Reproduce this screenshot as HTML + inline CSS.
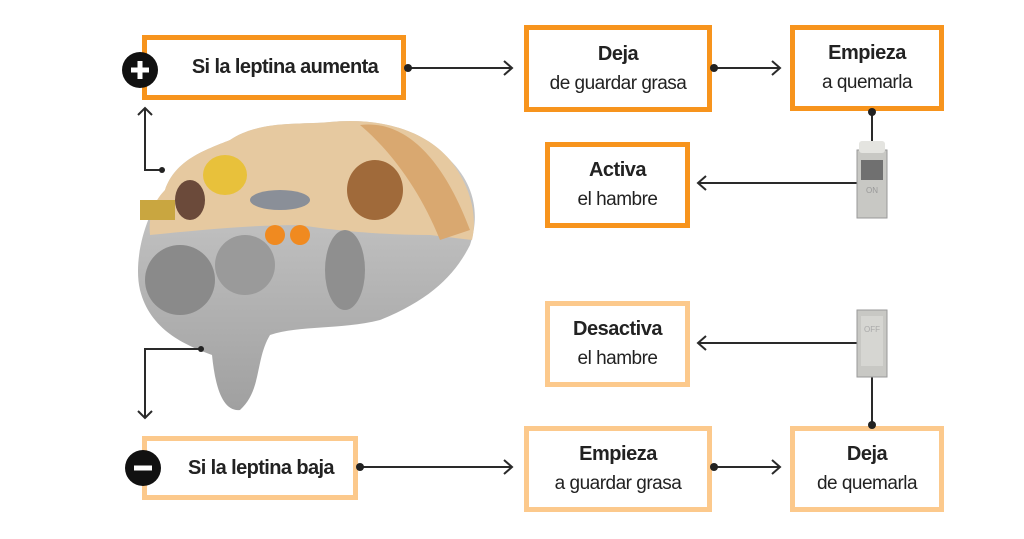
<!DOCTYPE html>
<html><head><meta charset="utf-8"><style>
body{margin:0;width:1024px;height:539px;background:#fff;overflow:hidden;position:relative;font-family:"Liberation Sans",sans-serif;color:#222}
.b{position:absolute;box-sizing:border-box;border:5px solid #f7941d;background:#fff;text-align:center;display:flex;flex-direction:column;justify-content:center;font-size:19px;line-height:29px;letter-spacing:-0.5px}
.l{border-color:#fcc98c}
.b b{font-size:20px}
.t{font-weight:bold;font-size:20px;justify-content:center;letter-spacing:-0.6px}
</style></head><body>
<svg width="1024" height="539" style="position:absolute;left:0;top:0">
<defs><linearGradient id="g" x1="0" y1="0" x2="0" y2="1"><stop offset="0" stop-color="#d0d0d0"/><stop offset="1" stop-color="#a0a0a0"/></linearGradient></defs>
<path d="M165,190 C175,160 205,150 230,140 C260,120 300,125 330,122 C370,118 420,125 450,160 C475,185 480,215 470,245 C455,275 430,300 380,320 C340,330 300,325 270,335 C255,360 262,390 240,410 C222,412 215,385 212,355 C185,345 150,330 140,290 C133,260 145,215 165,190Z" fill="url(#g)"/>
<path d="M165,190 C175,160 205,150 230,140 C260,120 300,125 330,122 C370,118 420,125 450,160 C470,185 478,215 472,240 L430,235 C380,235 330,230 300,225 C250,225 200,230 150,235 C148,215 155,200 165,190Z" fill="#e6c9a0"/>
<path d="M360,125 C400,120 440,150 470,230 L440,240 C420,190 390,150 360,125Z" fill="#d9a870"/>
<ellipse cx="375" cy="190" rx="28" ry="30" fill="#a06a3a"/>
<ellipse cx="225" cy="175" rx="22" ry="20" fill="#e8c13b"/>
<ellipse cx="280" cy="200" rx="30" ry="10" fill="#8a8f98"/>
<circle cx="275" cy="235" r="10" fill="#f08a20"/><circle cx="300" cy="235" r="10" fill="#f08a20"/>
<ellipse cx="190" cy="200" rx="15" ry="20" fill="#6b4a3a"/>
<rect x="140" y="200" width="35" height="20" fill="#c9a640"/>
<ellipse cx="345" cy="270" rx="20" ry="40" fill="#8f8f8f"/>
<ellipse cx="245" cy="265" rx="30" ry="30" fill="#9a9a9a"/>
<ellipse cx="180" cy="280" rx="35" ry="35" fill="#8a8a8a"/>
<g stroke="#2a2a2a" stroke-width="2" fill="none">
<path d="M406,68H512M504,61l8,7-8,7"/>
<path d="M712,68H780M772,61l8,7-8,7"/>
<path d="M872,112V142"/>
<path d="M857,183H698M706,176l-8,7 8,7"/>
<path d="M857,343H698M706,336l-8,7 8,7"/>
<path d="M872,377V426"/>
<path d="M358,467H512M504,460l8,7-8,7"/>
<path d="M712,467H780M772,460l8,7-8,7"/>
<path d="M162,170H145V108M138,115l7,-7 7,7"/>
<path d="M201,349H145V418M138,411l7,7 7,-7"/>
</g>
<g fill="#222"><circle cx="162" cy="170" r="3"/><circle cx="201" cy="349" r="3"/></g>
<rect x="857" y="150" width="30" height="68" fill="#c8c8c4" stroke="#999"/>
<rect x="859" y="141" width="26" height="12" rx="3" fill="#e4e4e0"/>
<rect x="861" y="160" width="22" height="20" fill="#707070"/>
<text x="872" y="193" font-size="8" text-anchor="middle" fill="#999" font-family="Liberation Sans">ON</text>
<rect x="857" y="310" width="30" height="67" fill="#c8c8c4" stroke="#999"/>
<rect x="861" y="316" width="22" height="50" fill="#d6d6d2"/>
<text x="872" y="332" font-size="8" text-anchor="middle" fill="#aaa" font-family="Liberation Sans">OFF</text>
</svg>
<div class="b t" style="left:142px;top:35px;width:264px;height:65px;padding-left:22px">Si la leptina aumenta</div>
<div class="b" style="left:524px;top:25px;width:188px;height:87px"><b>Deja</b>de guardar grasa</div>
<div class="b" style="left:790px;top:25px;width:154px;height:86px"><b>Empieza</b>a quemarla</div>
<div class="b" style="left:545px;top:142px;width:145px;height:86px"><b>Activa</b>el hambre</div>
<div class="b l" style="left:545px;top:301px;width:145px;height:86px"><b>Desactiva</b>el hambre</div>
<div class="b l t" style="left:142px;top:436px;width:216px;height:64px;padding-left:22px">Si la leptina baja</div>
<div class="b l" style="left:524px;top:426px;width:188px;height:86px"><b>Empieza</b>a guardar grasa</div>
<div class="b l" style="left:790px;top:426px;width:154px;height:86px"><b>Deja</b>de quemarla</div>
<svg width="1024" height="539" style="position:absolute;left:0;top:0">
<g fill="#222"><circle cx="408" cy="68" r="4"/><circle cx="714" cy="68" r="4"/><circle cx="872" cy="112" r="4"/><circle cx="872" cy="425" r="4"/><circle cx="360" cy="467" r="4"/><circle cx="714" cy="467" r="4"/></g>
<circle cx="140" cy="70" r="18" fill="#111"/><path d="M131,70h18M140,61v18" stroke="#fff" stroke-width="5"/>
<circle cx="143" cy="468" r="18" fill="#111"/><path d="M134,468h18" stroke="#fff" stroke-width="5"/>
</svg>
</body></html>
